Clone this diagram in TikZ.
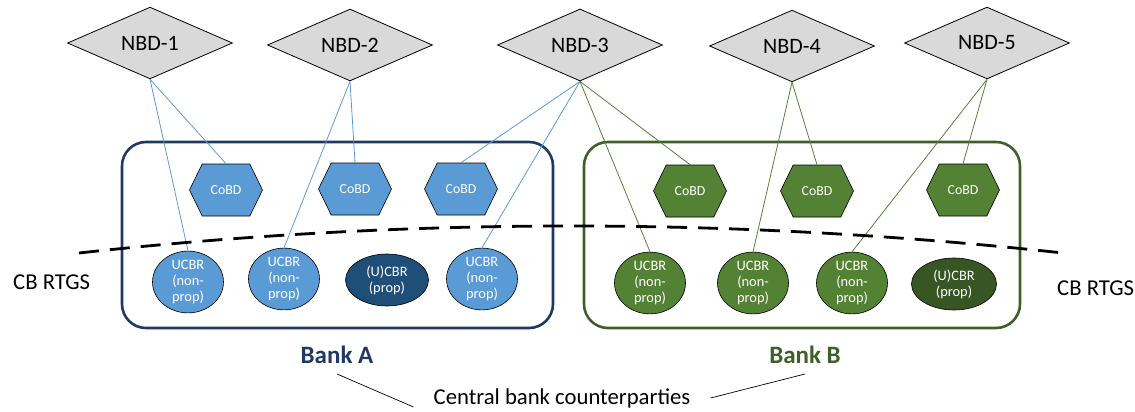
\documentclass[tikz,border=0pt]{standalone}
\usepackage{fontspec}
\setmainfont{Carlito}
\usetikzlibrary{shapes.geometric,shapes.symbols}
\definecolor{lblue}{HTML}{5B9BD5}
\definecolor{dblue}{HTML}{1F4E79}
\definecolor{navy}{HTML}{203864}
\definecolor{lgreen}{HTML}{548235}
\definecolor{dgreen}{HTML}{375623}
\definecolor{bgreen}{HTML}{3F5F2A}
\definecolor{nbdgray}{HTML}{D9D9D9}
\tikzset{
  nbd/.style={diamond, draw=black, fill=nbdgray, line width=0.8pt, minimum width=165pt, minimum height=67pt, inner sep=0pt, font=\fontsize{22}{24}\selectfont, text=black},
  cobd/.style={signal, signal to=east and west, signal pointer angle=128, draw=black, line width=0.6pt, minimum width=73pt, minimum height=52pt, inner sep=0pt, font=\fontsize{13.8}{15}\selectfont, text=white},
  ucbr/.style={ellipse, draw=black, line width=0.6pt, minimum width=71pt, minimum height=51pt, inner sep=0pt, font=\fontsize{14.4}{16}\selectfont, text=white, align=center},
  bankbox/.style={rounded corners=24pt, line width=2.6pt},
  linkA/.style={draw=lblue, line width=0.8pt},
  linkB/.style={draw=lgreen, line width=0.8pt},
  lbl/.style={font=\fontsize{22.7}{25}\selectfont, text=black, inner sep=0pt},
  banklbl/.style={font=\bfseries\fontsize{25}{27}\selectfont},
}
\begin{document}
\begin{tikzpicture}[x=1pt,y=-1pt]
\useasboundingbox (0,0) rectangle (1135,412);
% bank boxes
\draw[bankbox, draw=navy] (122,142) rectangle (553,328);
\draw[bankbox, draw=bgreen] (584,142) rectangle (1020,328);
% NBD diamonds
\node[nbd] (n1) at (150,43) {NBD-1};
\node[nbd] (n2) at (350,45) {NBD-2};
\node[nbd] (n3) at (580,45) {NBD-3};
\node[nbd] (n4) at (792,46) {NBD-4};
\node[nbd] (n5) at (987,43) {NBD-5};
% CoBD
\node[cobd, fill=lblue] (ca1) at (226,190) {CoBD};
\node[cobd, fill=lblue] (ca2) at (355,189) {CoBD};
\node[cobd, fill=lblue] (ca3) at (461,189) {CoBD};
\node[cobd, fill=lgreen] (cb1) at (690,191) {CoBD};
\node[cobd, fill=lgreen] (cb2) at (817,191) {CoBD};
\node[cobd, fill=lgreen] (cb3) at (963,190) {CoBD};
% UCBR
\node[ucbr, fill=lblue] (ua1) at (188,282) {UCBR\\(non-\\prop)};
\node[ucbr, fill=lblue] (ua2) at (284,279) {UCBR\\(non-\\prop)};
\node[ucbr, fill=dblue, minimum width=83pt, minimum height=52pt] (pa) at (387,280) {(U)CBR\\(prop)};
\node[ucbr, fill=lblue] (ua4) at (482,279) {UCBR\\(non-\\prop)};
\node[ucbr, fill=lgreen] (ub1) at (650,283) {UCBR\\(non-\\prop)};
\node[ucbr, fill=lgreen] (ub2) at (753,283) {UCBR\\(non-\\prop)};
\node[ucbr, fill=lgreen] (ub3) at (852,283) {UCBR\\(non-\\prop)};
\node[ucbr, fill=dgreen, minimum width=85pt, minimum height=52pt] (pb) at (954,284) {(U)CBR\\(prop)};
% links
\draw[linkA] (n1.south) -- (ua1.north);
\draw[linkA] (n1.south) -- (ca1.north);
\draw[linkA] (n2.south) -- (ua2.north);
\draw[linkA] (n2.south) -- (ca2.north);
\draw[linkA] (n3.south) -- (ca3.north);
\draw[linkA] (n3.south) -- (ua4.north);
\draw[linkB] (n3.south) -- (ub1.north);
\draw[linkB] (n3.south) -- (cb1.north);
\draw[linkB] (n4.south) -- (ub2.north);
\draw[linkB] (n4.south) -- (cb2.north);
\draw[linkB] (n5.south) -- (ub3.north);
\draw[linkB] (n5.south) -- (cb3.north);
% dashed RTGS boundary
\coordinate (dl) at (79,253);
\coordinate (dr) at (1063,253);
\draw[line width=2.8pt, dash pattern=on 20pt off 11pt] (dl) .. controls (407,217) and (735,217) .. (dr);
\node[lbl, anchor=west] (rtgsl) at (13,282) {CB RTGS};
\node[lbl, anchor=west] (rtgsr) at (1057,288) {CB RTGS};
% bank labels
\node[banklbl, text=navy] (bA) at (337,355) {Bank A};
\node[banklbl, text=bgreen] (bB) at (805,355) {Bank B};
\node[lbl, inner xsep=20pt] (cbc) at (562,398) {Central bank counterparties};
\coordinate (la) at (337,374);
\coordinate (ra) at (805,374);
\draw[line width=0.7pt] (la) -- ([yshift=-9pt]cbc.west);
\draw[line width=0.7pt] (cbc.east) -- (ra);
\end{tikzpicture}
\end{document}
